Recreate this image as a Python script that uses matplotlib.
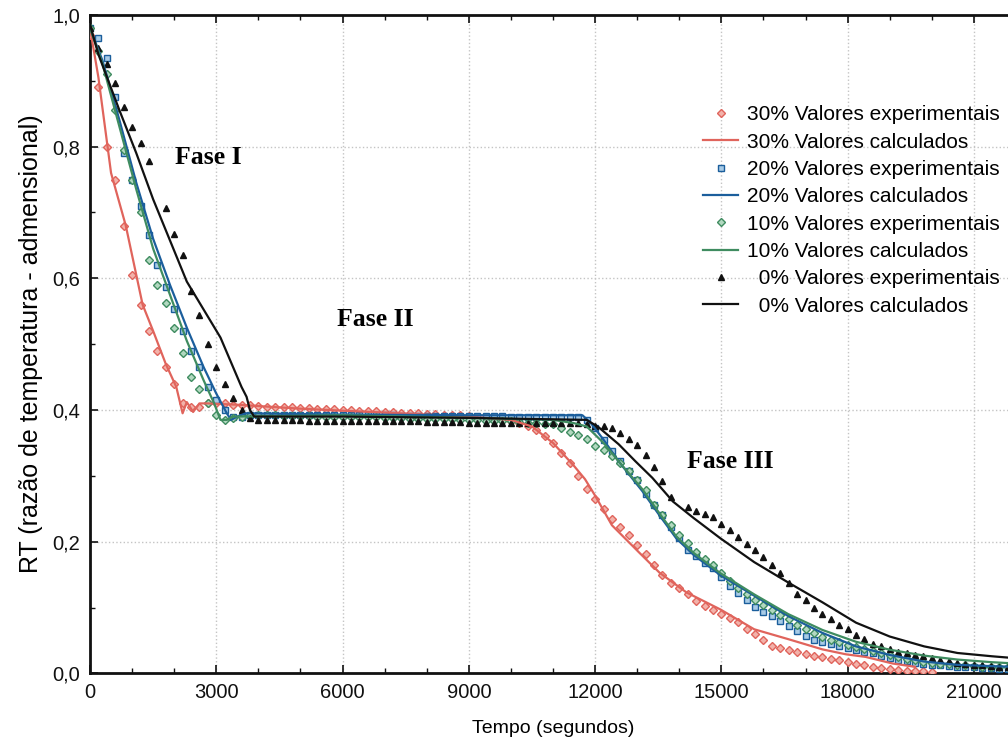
import numpy as np
import matplotlib
matplotlib.use("Agg")
import matplotlib.pyplot as plt
from matplotlib.ticker import MultipleLocator, FixedLocator, FixedFormatter

plt.rcParams['font.family'] = ['Liberation Sans', 'DejaVu Sans']

# ---------------- data ----------------
x_ticks = [0, 3000, 6000, 9000, 12000, 15000, 18000, 21000]
x_tick_labels = ["0", "3000", "6000", "9000", "12000", "15000", "18000", "21000"]
y_ticks = [0.0, 0.2, 0.4, 0.6, 0.8, 1.0]
y_tick_labels = ["0,0", "0,2", "0,4", "0,6", "0,8", "1,0"]

t_exp = np.arange(0, 22000, 200)  # sampling instants of the measurements (s)

exp_30 = [0.97, 0.89, 0.80, 0.75, 0.68, 0.605, 0.56, 0.52, 0.49, 0.465,
          0.44, 0.41, 0.405, 0.405, 0.41, 0.41, 0.41, 0.408, 0.408, 0.407,
          0.406, 0.405, 0.405, 0.404, 0.404, 0.403, 0.403, 0.402, 0.402, 0.401,
          0.40, 0.40, 0.399, 0.398, 0.398, 0.397, 0.397, 0.396, 0.396, 0.395,
          0.394, 0.394, 0.393, 0.392, 0.392, 0.391, 0.39, 0.389, 0.388, 0.387,
          0.383, 0.38, 0.375, 0.37, 0.36, 0.35, 0.335, 0.32, 0.30, 0.28,
          0.265, 0.25, 0.235, 0.222, 0.21, 0.195, 0.182, 0.165, 0.15, 0.138,
          0.13, 0.12, 0.11, 0.103, 0.097, 0.09, 0.084, 0.078, 0.068, 0.06,
          0.05, 0.042, 0.038, 0.036, 0.032, 0.029, 0.027, 0.025, 0.022, 0.02,
          0.017, 0.015, 0.012, 0.01, 0.008, 0.006, 0.005, 0.004, 0.003, 0.003,
          0.002]

exp_20 = [0.98, 0.965, 0.935, 0.875, 0.79, 0.75, 0.71, 0.665, 0.62, 0.587,
          0.554, 0.52, 0.49, 0.465, 0.435, 0.415, 0.40, 0.39, 0.39, 0.392,
          0.393, 0.393, 0.393, 0.393, 0.393, 0.393, 0.393, 0.392, 0.392, 0.392,
          0.392, 0.392, 0.392, 0.392, 0.392, 0.392, 0.392, 0.391, 0.391, 0.391,
          0.391, 0.391, 0.391, 0.391, 0.391, 0.391, 0.391, 0.391, 0.391, 0.391,
          0.39, 0.39, 0.39, 0.39, 0.39, 0.39, 0.39, 0.39, 0.39, 0.385,
          0.372, 0.355, 0.338, 0.323, 0.308, 0.294, 0.272, 0.256, 0.24, 0.223,
          0.206, 0.188, 0.178, 0.168, 0.16, 0.147, 0.133, 0.122, 0.111, 0.101,
          0.094, 0.087, 0.079, 0.072, 0.064, 0.057, 0.051, 0.047, 0.044, 0.041,
          0.038, 0.036, 0.033, 0.031, 0.027, 0.023, 0.021, 0.019, 0.016, 0.014,
          0.013, 0.012, 0.011, 0.010, 0.009, 0.009, 0.008, 0.008, 0.007, 0.007]

exp_10 = [0.98, 0.945, 0.91, 0.855, 0.795, 0.75, 0.70, 0.628, 0.59, 0.563,
          0.524, 0.487, 0.45, 0.432, 0.41, 0.392, 0.385, 0.388, 0.39, 0.392,
          0.392, 0.392, 0.392, 0.391, 0.391, 0.391, 0.391, 0.39, 0.39, 0.39,
          0.39, 0.389, 0.389, 0.389, 0.389, 0.388, 0.388, 0.388, 0.387, 0.387,
          0.387, 0.386, 0.386, 0.386, 0.385, 0.385, 0.385, 0.384, 0.384, 0.383,
          0.383, 0.382, 0.381, 0.38, 0.379, 0.378, 0.372, 0.366, 0.362, 0.356,
          0.346, 0.34, 0.33, 0.32, 0.307, 0.294, 0.278, 0.255, 0.24, 0.225,
          0.21, 0.198, 0.185, 0.173, 0.164, 0.152, 0.14, 0.13, 0.12, 0.111,
          0.104, 0.096, 0.089, 0.082, 0.074, 0.067, 0.061, 0.056, 0.051, 0.047,
          0.043, 0.04, 0.037, 0.034, 0.031, 0.028, 0.025, 0.022, 0.02, 0.018,
          0.016, 0.015, 0.014, 0.013, 0.012, 0.011, 0.01, 0.01, 0.009, 0.009]

exp_0 = [0.98, 0.95, 0.925, 0.897, 0.86, 0.83, 0.806, 0.778, np.nan, 0.706,
         0.668, 0.636, 0.58, 0.545, 0.50, 0.465, 0.44, 0.418, 0.40, 0.388,
         0.385, 0.385, 0.385, 0.385, 0.385, 0.385, 0.384, 0.384, 0.384, 0.384,
         0.384, 0.384, 0.384, 0.383, 0.383, 0.383, 0.383, 0.383, 0.383, 0.383,
         0.382, 0.382, 0.382, 0.382, 0.382, 0.381, 0.381, 0.381, 0.381, 0.381,
         0.381, 0.381, 0.38, 0.38, 0.38, 0.38, 0.38, 0.38, 0.38, 0.378,
         0.376, 0.375, 0.372, 0.365, 0.356, 0.347, 0.332, 0.313, 0.292, 0.268,
         np.nan, 0.252, 0.247, 0.242, 0.237, 0.227, 0.218, 0.207, 0.197, 0.188,
         0.177, 0.164, 0.152, 0.137, 0.12, 0.112, 0.099, 0.09, 0.082, 0.074,
         0.067, 0.058, 0.052, 0.044, 0.041, 0.037, 0.033, 0.031, 0.028, 0.026,
         0.023, 0.02, 0.019, 0.016, 0.014, 0.013, 0.012, 0.011, 0.01, 0.009]

t_calc_30 = [0, 200, 500, 850, 1250, 1500, 1800, 2050, 2200, 2300, 2450, 2600, 2800,
             3500, 5000, 7000, 9000, 10000, 10500, 11000, 11500, 11760, 12000, 12400,
             13040, 13530, 14170, 14980, 15780, 16590, 17400, 17960, 18430, 19070, 19600]
calc_30 = [0.98, 0.905, 0.76, 0.68, 0.56, 0.52, 0.47, 0.435, 0.395, 0.412, 0.397, 0.41, 0.41,
           0.408, 0.402, 0.396, 0.39, 0.385, 0.375, 0.35, 0.315, 0.295, 0.27, 0.225,
           0.184, 0.153, 0.123, 0.097, 0.067, 0.052, 0.0365, 0.029, 0.025, 0.015, 0.01]

t_calc_20 = [0, 300, 700, 1100, 1500, 1900, 2300, 2700, 3000, 3250, 3350, 3500, 3700,
             6000, 9000, 11700, 11900, 12200, 12560, 13120, 13530, 13930, 14340, 14980,
             15780, 16590, 17400, 18200, 19000, 19820, 20610, 21430, 22000]
calc_20 = [0.98, 0.93, 0.84, 0.745, 0.66, 0.59, 0.525, 0.465, 0.425, 0.395, 0.385, 0.39, 0.395,
           0.393, 0.392, 0.392, 0.38, 0.355, 0.322, 0.277, 0.24, 0.205, 0.18, 0.149,
           0.118, 0.087, 0.0615, 0.041, 0.028, 0.018, 0.013, 0.011, 0.01]

t_calc_10 = [0, 300, 700, 1100, 1500, 1900, 2300, 2700, 2950, 3100, 3250, 3400,
             6000, 9000, 11000, 11500, 11800, 12200, 12560, 13120, 13530, 13930, 14340,
             14980, 15780, 16590, 17400, 18200, 19000, 19820, 20610, 21430, 22000]
calc_10 = [0.98, 0.925, 0.83, 0.735, 0.645, 0.575, 0.505, 0.445, 0.41, 0.385, 0.385, 0.39,
           0.392, 0.388, 0.385, 0.38, 0.375, 0.35, 0.322, 0.28, 0.243, 0.208, 0.183,
           0.152, 0.12, 0.09, 0.066, 0.048, 0.036, 0.027, 0.021, 0.017, 0.015]

t_calc_0 = [0, 200, 700, 1100, 1500, 2300, 3100, 3600, 3720, 3800, 3900, 6000, 9000,
            11800, 12080, 12560, 12960, 13360, 13850, 14340, 14980, 15780, 16590,
            17400, 18200, 19000, 19820, 20610, 21430, 22000]
calc_0 = [0.985, 0.94, 0.855, 0.79, 0.72, 0.595, 0.51, 0.435, 0.42, 0.40, 0.39, 0.39, 0.388,
          0.385, 0.374, 0.348, 0.322, 0.297, 0.261, 0.236, 0.205, 0.169, 0.138,
          0.108, 0.077, 0.056, 0.041, 0.031, 0.026, 0.023]

labels_exp = ["30% Valores experimentais", "20% Valores experimentais",
              "10% Valores experimentais", "\u20070% Valores experimentais"]
labels_calc = ["30% Valores calculados", "20% Valores calculados",
               "10% Valores calculados", "\u20070% Valores calculados"]
phase_labels = ["Fase I", "Fase II", "Fase III"]
phase_pos = [(2020, 0.784), (5870, 0.537), (14180, 0.3225)]

# ---------------- styling ----------------
red, blue, green, black = "#e0645c", "#1b5e9c", "#3f8c60", "#111111"
red_f, blue_f, green_f = "#f2b2aa", "#a8cbe6", "#b2d8c0"

fig = plt.figure(figsize=(10.08, 7.5), dpi=100)
ax = fig.add_axes([90 / 1008, 1 - 673.4 / 750, 926 / 1008, 658.5 / 750])

series = [
    (exp_30, t_calc_30, calc_30, red, red_f, "D", 3.6, labels_exp[0], labels_calc[0]),
    (exp_20, t_calc_20, calc_20, blue, blue_f, "s", 3.8, labels_exp[1], labels_calc[1]),
    (exp_10, t_calc_10, calc_10, green, green_f, "D", 3.6, labels_exp[2], labels_calc[2]),
    (exp_0, t_calc_0, calc_0, black, black, "^", 4.4, labels_exp[3], labels_calc[3]),
]

handles = []
for ye, tc, yc, col, fcol, mk, ms, le, lc in series:
    n = len(ye)
    h1, = ax.plot(t_exp[:n], ye, linestyle="none", marker=mk, ms=ms,
                  markerfacecolor=fcol, markeredgecolor=col, markeredgewidth=1.0,
                  label=le, zorder=3)
    h2, = ax.plot(tc, yc, color=col, lw=1.6, label=lc, zorder=4)
    handles += [h1, h2]

ax.set_xlim(0, 22000)
ax.set_ylim(0, 1.0)
ax.xaxis.set_major_locator(FixedLocator(x_ticks))
ax.xaxis.set_major_formatter(FixedFormatter(x_tick_labels))
ax.xaxis.set_minor_locator(MultipleLocator(1000))
ax.yaxis.set_major_locator(FixedLocator(y_ticks))
ax.yaxis.set_major_formatter(FixedFormatter(y_tick_labels))
ax.yaxis.set_minor_locator(MultipleLocator(0.1))
ax.tick_params(which="both", direction="in", top=True, right=True, colors="#111111")
ax.tick_params(which="major", length=6, width=1.2, labelsize=14.5, pad=7)
ax.tick_params(which="minor", length=3.5, width=1.0)
for s in ax.spines.values():
    s.set_linewidth(2.0)
    s.set_color("#111111")
ax.grid(True, which="major", linestyle=":", color="#c4c4c4", lw=1.0, zorder=0)

ax.set_xlabel("Tempo (segundos)", fontsize=14, labelpad=13)
ax.set_ylabel("RT (razão de temperatura - admensional)", fontsize=18, labelpad=7)

for txt, (px, py) in zip(phase_labels, phase_pos):
    ax.text(px, py, txt, family=["Liberation Serif", "DejaVu Serif"], fontweight="bold",
            fontsize=18.5, ha="left", va="center", zorder=5)

leg = ax.legend(handles=handles, loc="upper left", bbox_to_anchor=(0.653, 0.8753),
                frameon=False, fontsize=15, handlelength=1.7, handletextpad=0.4,
                labelspacing=0.4, borderaxespad=0, borderpad=0.4)

fig.savefig("out.png", dpi=100)
